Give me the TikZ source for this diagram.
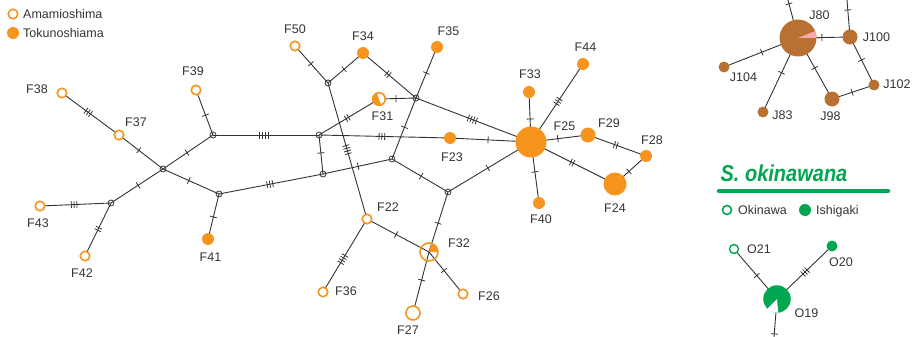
\documentclass[tikz,border=0pt]{standalone}
\usepackage{fontspec}
\setmainfont{Liberation Sans}
\usepackage{graphicx}
\usetikzlibrary{decorations.markings,backgrounds}

\definecolor{amami}{RGB}{247,148,30}
\definecolor{jbrown}{RGB}{184,113,50}
\definecolor{jpink}{RGB}{246,170,170}
\definecolor{okigreen}{RGB}{0,166,81}
\definecolor{txt}{RGB}{51,51,51}

\tikzset{
  edge/.style={draw=txt,line width=0.9pt},
  cuts/.style 2 args={postaction={decorate,decoration={markings,
      mark=at position #2 with {\foreach \k in {1,...,#1}
        {\draw[txt,line width=0.8pt] ({(\k-(#1+1)/2)*2.8},-3.5) -- ++(0,7);}}}}},
  mv/.style={circle,draw=txt,line width=0.8pt,minimum size=6pt,inner sep=0pt},
  ama/.style={circle,draw=amami,line width=1.6pt,fill=white,minimum size=#1,inner sep=0pt},
  ama/.default=9.5pt,
  tok/.style={circle,fill=amami,minimum size=#1,inner sep=0pt},
  tok/.default=12pt,
  lab/.style={text=txt,font=\fontsize{12.5}{14}\selectfont,inner sep=0pt},
}

\begin{document}
\begin{tikzpicture}[x=1pt,y=-1pt]
\useasboundingbox (0,0) rectangle (916,337);

% legend
\node[ama] (legA) at (13,14) {};
\node[lab,anchor=base west] (legAt) at (23,18.3) {Amamioshima};
\node[tok] (legT) at (13,33) {};
\node[lab,anchor=base west] (legTt) at (23,37.3) {Tokunoshiama};

% median vectors
\node[mv] (m1) at (163,169) {};
\node[mv] (m2) at (213,135) {};
\node[mv] (m3) at (319,135) {};
\node[mv] (m4) at (111,203) {};
\node[mv] (m5) at (219,194) {};
\node[mv] (m6) at (323,174) {};
\node[mv] (m7) at (392,159) {};
\node[mv] (m8) at (416,98) {};
\node[mv] (m9) at (448,192) {};
\node[mv] (m10) at (328,83) {};

% F haplotypes
\node[ama] (F38) at (62,93) {};
\node[ama] (F37) at (119,135) {};
\node[ama] (F39) at (196,90) {};
\node[ama] (F43) at (40,206) {};
\node[ama] (F42) at (85,256) {};
\node[tok] (F41) at (208,239) {};
\node[ama] (F50) at (295,46) {};
\node[tok] (F34) at (363,53) {};
\node[tok] (F35) at (437,47) {};
\node[ama=12.5pt] (F31) at (379,99) {};
\node[tok] (F23) at (450,138) {};
\node[tok=31pt] (F25) at (531,142) {};
\node[tok] (F33) at (529,92) {};
\node[tok] (F44) at (583,64) {};
\node[tok=15pt] (F29) at (588,135) {};
\node[tok] (F28) at (646,156) {};
\node[tok=23pt] (F24) at (615,184) {};
\node[tok] (F40) at (539,203) {};
\node[ama] (F22) at (367,219) {};
\node[ama=18pt,fill=none] (F32) at (429,252) {};
\node[ama] (F36) at (323,292) {};
\node[ama] (F26) at (463,294) {};
\node[ama=14pt] (F27) at (413,313) {};

\fill[amami] (F31.center) -- ++(-110:6.2) arc[start angle=-110,end angle=-290,radius=6.2] -- cycle;
\fill[amami] (F32.center) -- ++(0:9) arc[start angle=0,end angle=-75,radius=9] -- cycle;

\node[lab] (lF38) at (37,89.5) {F38};
\node[lab] (lF37) at (136,122) {F37};
\node[lab] (lF39) at (193,71.5) {F39};
\node[lab] (lF43) at (38,223) {F43};
\node[lab] (lF42) at (82,273) {F42};
\node[lab] (lF41) at (210.5,257.5) {F41};
\node[lab] (lF50) at (295,29.5) {F50};
\node[lab] (lF34) at (363,36.5) {F34};
\node[lab] (lF35) at (448.5,31) {F35};
\node[lab] (lF31) at (382.5,116.5) {F31};
\node[lab] (lF23) at (452,157.5) {F23};
\node[lab] (lF25) at (564.5,126.5) {F25};
\node[lab] (lF33) at (530,74.5) {F33};
\node[lab] (lF44) at (585.5,47.5) {F44};
\node[lab] (lF29) at (609,123) {F29};
\node[lab] (lF28) at (652,140.5) {F28};
\node[lab] (lF24) at (615,208.5) {F24};
\node[lab] (lF40) at (541,219.5) {F40};
\node[lab] (lF22) at (388,207.5) {F22};
\node[lab] (lF32) at (459,243) {F32};
\node[lab] (lF36) at (346,291.5) {F36};
\node[lab] (lF26) at (489,296) {F26};
\node[lab] (lF27) at (408,330.5) {F27};

% J haplotypes
\node[circle,fill=jbrown,minimum size=37pt,inner sep=0pt] (J80) at (798,38) {};
\fill[jpink] (J80.center) -- ++(0:18.5) arc[start angle=0,end angle=-22,radius=18.5] -- cycle;
\node[circle,fill=jbrown,minimum size=15pt,inner sep=0pt] (J100) at (850,37) {};
\node[circle,fill=jbrown,minimum size=11pt,inner sep=0pt] (J104) at (724,67) {};
\node[circle,fill=jbrown,minimum size=11pt,inner sep=0pt] (J83) at (763,112) {};
\node[circle,fill=jbrown,minimum size=15pt,inner sep=0pt] (J98) at (832,99) {};
\node[circle,fill=jbrown,minimum size=11pt,inner sep=0pt] (J102) at (874,85) {};
\coordinate (j80up) at (788,0);
\coordinate (j100up) at (847,0);

\node[lab] (lJ80) at (819.5,15) {J80};
\node[lab] (lJ100) at (876.5,37.5) {J100};
\node[lab] (lJ104) at (743.5,77.5) {J104};
\node[lab] (lJ83) at (782.5,115.5) {J83};
\node[lab] (lJ98) at (830.5,116.5) {J98};
\node[lab] (lJ102) at (897,84.5) {J102};

% S. okinawana
\node[text=okigreen,font=\fontsize{20}{24}\selectfont\bfseries\itshape,inner sep=0pt] (oki) at (784,173)
  {\scalebox{1}[1.15]{S. okinawana}};
\draw[okigreen,line width=4.5pt,line cap=round] (719,191) -- (888,191);
\node[circle,draw=okigreen,line width=1.6pt,fill=white,minimum size=9pt,inner sep=0pt] (legO) at (727,210) {};
\node[lab,anchor=base west] (legOt) at (738,214.5) {Okinawa};
\node[circle,fill=okigreen,minimum size=12pt,inner sep=0pt] (legI) at (805,210) {};
\node[lab,anchor=base west] (legIt) at (816,214.5) {Ishigaki};

\node[circle,fill=okigreen,minimum size=27.5pt,inner sep=0pt] (O19) at (777,299) {};
\fill[white] (O19.center) -- ++(-225:13.8) arc[start angle=-225,end angle=-275,radius=13.8] -- cycle;
\node[circle,draw=okigreen,line width=1.4pt,fill=white,minimum size=9pt,inner sep=0pt] (O21) at (734,249) {};
\node[circle,fill=okigreen,minimum size=11pt,inner sep=0pt] (O20) at (832,246) {};
\coordinate (o19dn) at (774,337);

\node[lab] (lO21) at (759,249.5) {O21};
\node[lab] (lO20) at (841,262) {O20};
\node[lab] (lO19) at (806.5,313) {O19};

\begin{scope}[on background layer]
\draw[edge,cuts={3}{0.46}] (F38.center) -- (F37.center);
\draw[edge,cuts={1}{0.45}] (F37.center) -- (m1.center);
\draw[edge,cuts={1}{0.48}] (m1.center) -- (m2.center);
\draw[edge,cuts={1}{0.44}] (m2.center) -- (F39.center);
\draw[edge,cuts={4}{0.48}] (m2.center) -- (m3.center);
\draw[edge,cuts={1}{0.48}] (m1.center) -- (m4.center);
\draw[edge,cuts={3}{0.52}] (m4.center) -- (F43.center);
\draw[edge,cuts={2}{0.49}] (m4.center) -- (F42.center);
\draw[edge,cuts={1}{0.46}] (m1.center) -- (m5.center);
\draw[edge,cuts={1}{0.51}] (m5.center) -- (F41.center);
\draw[edge,cuts={3}{0.49}] (m5.center) -- (m6.center);
\draw[edge,cuts={1}{0.46}] (m3.center) -- (m6.center);
\draw[edge,cuts={3}{0.48}] (m3.center) -- (F23.center);
\draw[edge,cuts={2}{0.47}] (m3.center) -- (F31.center);
\draw[edge,cuts={1}{0.51}] (m6.center) -- (m7.center);
\draw[edge,cuts={1}{0.52}] (m7.center) -- (m8.center);
\draw[edge,cuts={1}{0.52}] (m7.center) -- (m9.center);
\draw[edge,cuts={4}{0.49}] (m10.center) -- (F22.center);
\draw[edge,cuts={1}{0.52}] (m10.center) -- (F50.center);
\draw[edge,cuts={1}{0.46}] (m10.center) -- (F34.center);
\draw[edge,cuts={2}{0.53}] (m8.center) -- (F34.center);
\draw[edge,cuts={1}{0.49}] (m8.center) -- (F35.center);
\draw[edge,cuts={1}{0.54}] (m8.center) -- (F31.center);
\draw[edge,cuts={4}{0.49}] (m8.center) -- (F25.center);
\draw[edge,cuts={1}{0.47}] (F23.center) -- (F25.center);
\draw[edge,cuts={1}{0.48}] (m9.center) -- (F25.center);
\draw[edge,cuts={1}{0.46}] (F25.center) -- (F33.center);
\draw[edge,cuts={3}{0.52}] (F25.center) -- (F44.center);
\draw[edge,cuts={1}{0.47}] (F25.center) -- (F29.center);
\draw[edge,cuts={2}{0.49}] (F25.center) -- (F24.center);
\draw[edge,cuts={1}{0.49}] (F25.center) -- (F40.center);
\draw[edge,cuts={2}{0.48}] (F29.center) -- (F28.center);
\draw[edge,cuts={1}{0.55}] (F28.center) -- (F24.center);
\draw[edge,cuts={1}{0.52}] (m9.center) -- (F32.center);
\draw[edge,cuts={1}{0.46}] (F32.center) -- (F27.center);
\draw[edge,cuts={1}{0.47}] (F22.center) -- (F32.center);
\draw[edge,cuts={1}{0.44}] (F32.center) -- (F26.center);
\draw[edge,cuts={4}{0.55}] (F22.center) -- (F36.center);
% J network
\draw[edge,cuts={1}{0.46}] (J80.center) -- (J100.center);
\draw[edge,cuts={1}{0.49}] (J80.center) -- (J104.center);
\draw[edge,cuts={1}{0.47}] (J80.center) -- (J83.center);
\draw[edge,cuts={1}{0.49}] (J80.center) -- (J98.center);
\draw[edge,cuts={1}{0.48}] (J100.center) -- (J102.center);
\draw[edge,cuts={1}{0.48}] (J98.center) -- (J102.center);
\draw[edge,cuts={1}{0.9}] (J80.center) -- (j80up);
\draw[edge,cuts={1}{0.73}] (J100.center) -- (j100up);
% O network
\draw[edge,cuts={1}{0.47}] (O19.center) -- (O21.center);
\draw[edge,cuts={3}{0.51}] (O19.center) -- (O20.center);
\draw[edge,cuts={1}{0.92}] (O19.center) -- (o19dn);
\end{scope}

\end{tikzpicture}
\end{document}
